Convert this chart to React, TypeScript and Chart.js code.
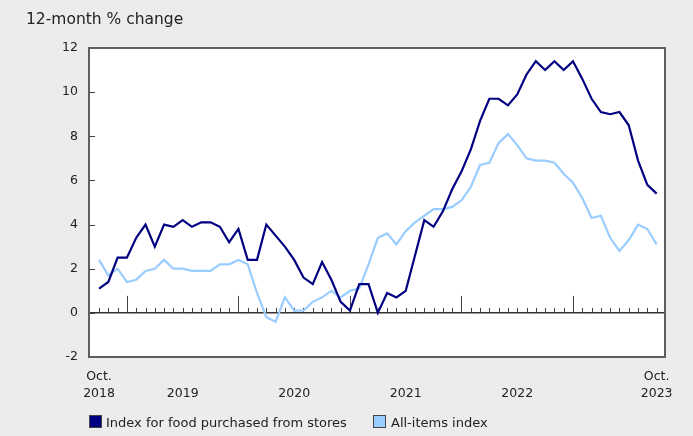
import { useEffect, useRef } from "react";
import { Chart, registerables } from "chart.js";

Chart.register(...registerables);

const categories = [
  "2018-10", "2018-11", "2018-12",
  "2019-01", "2019-02", "2019-03", "2019-04", "2019-05", "2019-06", "2019-07", "2019-08", "2019-09", "2019-10", "2019-11", "2019-12",
  "2020-01", "2020-02", "2020-03", "2020-04", "2020-05", "2020-06", "2020-07", "2020-08", "2020-09", "2020-10", "2020-11", "2020-12",
  "2021-01", "2021-02", "2021-03", "2021-04", "2021-05", "2021-06", "2021-07", "2021-08", "2021-09", "2021-10", "2021-11", "2021-12",
  "2022-01", "2022-02", "2022-03", "2022-04", "2022-05", "2022-06", "2022-07", "2022-08", "2022-09", "2022-10", "2022-11", "2022-12",
  "2023-01", "2023-02", "2023-03", "2023-04", "2023-05", "2023-06", "2023-07", "2023-08", "2023-09", "2023-10",
];

const foodStores = [
  1.1, 1.4, 2.5,
  2.5, 3.4, 4.0, 3.0, 4.0, 3.9, 4.2, 3.9, 4.1, 4.1, 3.9, 3.2,
  3.8, 2.4, 2.4, 4.0, 3.5, 3.0, 2.4, 1.6, 1.3, 2.3, 1.5, 0.5,
  0.1, 1.3, 1.3, 0.0, 0.9, 0.7, 1.0, 2.6, 4.2, 3.9, 4.6, 5.6,
  6.4, 7.4, 8.7, 9.7, 9.7, 9.4, 9.9, 10.8, 11.4, 11.0, 11.4, 11.0,
  11.4, 10.6, 9.7, 9.1, 9.0, 9.1, 8.5, 6.9, 5.8, 5.4,
];

const allItems = [
  2.4, 1.7, 2.0,
  1.4, 1.5, 1.9, 2.0, 2.4, 2.0, 2.0, 1.9, 1.9, 1.9, 2.2, 2.2,
  2.4, 2.2, 0.9, -0.2, -0.4, 0.7, 0.1, 0.1, 0.5, 0.7, 1.0, 0.7,
  1.0, 1.1, 2.2, 3.4, 3.6, 3.1, 3.7, 4.1, 4.4, 4.7, 4.7, 4.8,
  5.1, 5.7, 6.7, 6.8, 7.7, 8.1, 7.6, 7.0, 6.9, 6.9, 6.8, 6.3,
  5.9, 5.2, 4.3, 4.4, 3.4, 2.8, 3.3, 4.0, 3.8, 3.1,
];

const xTickMonths = ["2018-10", "2019-07", "2020-07", "2021-07", "2022-07", "2023-10"];
const xTickLabels: string[][] = [
  ["Oct.", "2018"],
  ["", "2019"],
  ["", "2020"],
  ["", "2021"],
  ["", "2022"],
  ["Oct.", "2023"],
];
const yTickValues = [-2, 0, 2, 4, 6, 8, 10, 12];

const titleText = "12-month % change";
const foodLabel = "Index for food purchased from stores";
const allLabel = "All-items index";

const FOOD_COLOR = "#000080";
const ALL_COLOR = "#99ccff";
const FONT = '"DejaVu Sans", Verdana, sans-serif';

const framePlugin = {
  id: "frame",
  beforeDraw(chart: any) {
    const { ctx, chartArea: a } = chart;
    const xs = chart.scales.x;
    const ys = chart.scales.y;
    ctx.save();
    ctx.fillStyle = "#ececec";
    ctx.fillRect(0, 0, chart.width, chart.height);
    ctx.fillStyle = "#ffffff";
    ctx.fillRect(a.left, a.top, a.right - a.left, a.bottom - a.top);
    const y0 = ys.getPixelForValue(0);
    ctx.strokeStyle = "#333333";
    ctx.lineWidth = 1.5;
    ctx.beginPath();
    ctx.moveTo(a.left, y0);
    ctx.lineTo(a.right, y0);
    ctx.stroke();
    ctx.lineWidth = 1;
    ctx.strokeStyle = "#444444";
    categories.forEach((c, i) => {
      const px = Math.round(xs.getPixelForValue(i)) + 0.5;
      const major = c.endsWith("-01");
      ctx.beginPath();
      ctx.moveTo(px, y0);
      ctx.lineTo(px, y0 - (major ? 17 : 5));
      ctx.stroke();
    });
    yTickValues.forEach((v) => {
      const py = Math.round(ys.getPixelForValue(v)) + 0.5;
      ctx.beginPath();
      ctx.moveTo(a.left, py);
      ctx.lineTo(a.left + 6, py);
      ctx.stroke();
    });
    ctx.restore();
  },
  afterDraw(chart: any) {
    const { ctx, chartArea: a } = chart;
    ctx.save();
    ctx.strokeStyle = "#5f5f5f";
    ctx.lineWidth = 2;
    ctx.strokeRect(a.left, a.top, a.right - a.left, a.bottom - a.top);
    ctx.restore();
  },
};

export default function App() {
  const ref = useRef<HTMLCanvasElement>(null);

  useEffect(() => {
    const xTickIdx = xTickMonths.map((m) => categories.indexOf(m));
    const chart = new Chart(ref.current as HTMLCanvasElement, {
      type: "line",
      data: {
        datasets: [
          {
            label: foodLabel,
            data: foodStores.map((v, i) => ({ x: i, y: v })),
            borderColor: FOOD_COLOR,
            backgroundColor: FOOD_COLOR,
            borderWidth: 2.2,
            pointRadius: 0,
            tension: 0,
          },
          {
            label: allLabel,
            data: allItems.map((v, i) => ({ x: i, y: v })),
            borderColor: ALL_COLOR,
            backgroundColor: ALL_COLOR,
            borderWidth: 2.2,
            pointRadius: 0,
            tension: 0,
          },
        ],
      },
      options: {
        animation: false,
        responsive: false,
        devicePixelRatio: 1,
        layout: { padding: { left: 0, top: 48, right: 28, bottom: 0 } },
        plugins: {
          legend: { display: false },
          tooltip: { enabled: false },
          title: { display: false },
        },
        scales: {
          x: {
            type: "linear",
            min: -1.08,
            max: 60.9,
            grid: { display: false, drawTicks: false },
            border: { display: false },
            afterBuildTicks: (scale: any) => {
              scale.ticks = xTickIdx.map((v) => ({ value: v }));
            },
            afterFit: (scale: any) => {
              scale.height = 79;
            },
            ticks: {
              autoSkip: false,
              maxRotation: 0,
              minRotation: 0,
              padding: 11,
              color: "#222222",
              font: { family: FONT, size: 12.5, lineHeight: 1.36 },
              callback: (value: any) => {
                const k = xTickIdx.indexOf(Number(value));
                return k >= 0 ? xTickLabels[k] : "";
              },
            },
          },
          y: {
            type: "linear",
            min: -2,
            max: 12,
            grid: { display: false, drawTicks: false },
            border: { display: false },
            afterBuildTicks: (scale: any) => {
              scale.ticks = yTickValues.map((v) => ({ value: v }));
            },
            afterFit: (scale: any) => {
              scale.width = 89;
            },
            ticks: {
              padding: 11,
              color: "#222222",
              font: { family: FONT, size: 12.5 },
            },
          },
        },
      },
      plugins: [framePlugin],
    } as any);
    return () => chart.destroy();
  }, []);

  const sq = (bg: string, left: number) => ({
    position: "absolute" as const,
    left,
    top: 415,
    width: 11,
    height: 11,
    background: bg,
    border: "1px solid #444",
  });
  const txt = (left: number) => ({
    position: "absolute" as const,
    left,
    top: 416,
    fontSize: 13,
    lineHeight: "13px",
    whiteSpace: "nowrap" as const,
  });

  return (
    <div
      style={{
        position: "fixed",
        left: 0,
        top: 0,
        width: 693,
        height: 436,
        background: "#ececec",
        fontFamily: FONT,
        color: "#222",
        overflow: "hidden",
      }}
    >
      <canvas
        ref={ref}
        width={693}
        height={436}
        style={{ position: "absolute", left: 0, top: 0, width: 693, height: 436 }}
      />
      <div style={{ position: "absolute", left: 26, top: 12, fontSize: 15.5, lineHeight: "15.5px", whiteSpace: "nowrap" }}>
        {titleText}
      </div>
      <div style={sq(FOOD_COLOR, 89)} />
      <div style={txt(106)}>{foodLabel}</div>
      <div style={sq(ALL_COLOR, 373)} />
      <div style={txt(391)}>{allLabel}</div>
    </div>
  );
}
